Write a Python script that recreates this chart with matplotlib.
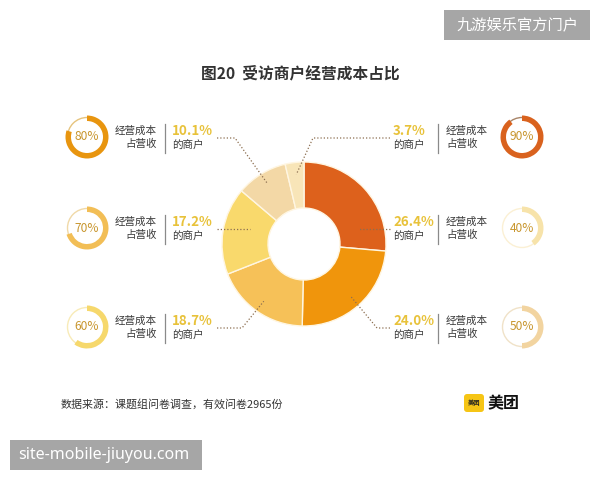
import numpy as np
import matplotlib
matplotlib.use('Agg')
import matplotlib.pyplot as plt
from matplotlib.patches import Wedge, Circle, FancyBboxPatch, Rectangle

plt.rcParams['font.family'] = ['Noto Sans CJK SC', 'DejaVu Sans']

# data (clockwise from 12 o'clock)
shares = [26.4, 24.0, 18.7, 17.2, 10.1, 3.7]
share_labels = ['26.4%', '24.0%', '18.7%', '17.2%', '10.1%', '3.7%']
slice_colors = ['#DD611C', '#F0950C', '#F6C158', '#F9D96C', '#F3D8A6', '#F8E5B8']
cost_ratio = [40, 50, 60, 70, 80, 90]
ring_colors = ['#F7E3AA', '#F2D4A0', '#F6D86C', '#F2BE56', '#E8950F', '#D9621E']
ring_light = ['#FBF0D4', '#F0E2C8', '#F8EBB8', '#F0D9A8', '#E6C47E', '#A88468']

title = '图20  受访商户经营成本占比'
source = '数据来源：课题组问卷调查，有效问卷2965份'

# layout in pixels (y measured from top): side, row y, elbow x (None = straight line)
layout = [('R', 229, None), ('R', 328, 377), ('L', 328, 242),
          ('L', 229, None), ('L', 138, 235), ('R', 138, 313)]

W, H = 600, 480
cx, cy, r_out, r_in = 304, 244, 82, 36


def Y(y):
    return H - y


fig = plt.figure(figsize=(6, 4.8), dpi=100)
ax = fig.add_axes([0, 0, 1, 1])

ax.pie(shares, colors=slice_colors, startangle=90, counterclock=False,
       radius=r_out, center=(cx, Y(cy)),
       wedgeprops=dict(width=r_out - r_in, edgecolor='#FFF6E2', linewidth=1.0))

ax.set_xlim(0, W)
ax.set_ylim(0, H)
ax.set_aspect('equal')
ax.axis('off')

ax.text(300, Y(73), title, ha='center', va='center', fontsize=11.3,
        fontweight='bold', color='#333333')

cum = np.cumsum([0] + shares[:-1])
dot = dict(color='#8C6E50', lw=0.9, linestyle=(0, (1, 1.6)))
for i, (side, ry, elbow) in enumerate(layout):
    mid = cum[i] + shares[i] / 2
    ang = np.deg2rad(90 - mid / 100 * 360)
    if side == 'L':
        tx_pct, sep_x, tx_cost, ring_x, line_x = 172, 165, 157, 87, 217
    else:
        tx_pct, sep_x, tx_cost, ring_x, line_x = 393, 438, 446, 522, 390

    # connector
    if elbow is None:
        end_x = cx - 54 if side == 'L' else cx + 54
        ax.plot([line_x, end_x], [Y(ry), Y(ry)], **dot)
    else:
        ax_, ay_ = cx + 70 * np.cos(ang), cy - 70 * np.sin(ang)
        ax.plot([line_x, elbow, ax_], [Y(ry), Y(ry), Y(ay_)], **dot)

    # share text
    ax.text(tx_pct, Y(ry - 7), share_labels[i], ha='left', va='center',
            fontsize=9.6, fontweight='bold', color='#E8C23A')
    ax.text(tx_pct, Y(ry + 8), '的商户', ha='left', va='center',
            fontsize=7.6, color='#3A3A3A')
    ax.plot([sep_x, sep_x], [Y(ry - 14), Y(ry + 15)], color='#8A8A8A', lw=0.9)
    ha = 'right' if side == 'L' else 'left'
    ax.text(tx_cost, Y(ry - 7), '经营成本', ha=ha, va='center',
            fontsize=7.6, color='#3A3A3A')
    ax.text(tx_cost, Y(ry + 6), '占营收', ha=ha, va='center',
            fontsize=7.6, color='#3A3A3A')

    # small ring
    p = cost_ratio[i] / 100
    ry_ring = ry - 1
    ax.add_patch(Circle((ring_x, Y(ry_ring)), 19.5, fill=False,
                        edgecolor=ring_light[i], lw=1.0))
    ax.add_patch(Wedge((ring_x, Y(ry_ring)), 21.5, 90 - 360 * p, 90, width=5.5,
                       facecolor=ring_colors[i], edgecolor='none'))
    ax.text(ring_x, Y(ry_ring), '{}%'.format(cost_ratio[i]), ha='center',
            va='center', fontsize=8.6, fontweight='medium', color='#C8962E')

# footer
ax.text(61, Y(404), source, ha='left', va='center', fontsize=7.9, color='#333333')
ax.add_patch(FancyBboxPatch((465, Y(411)), 18, 16, boxstyle='round,pad=1,rounding_size=3',
                            facecolor='#F6C515', edgecolor='none'))
ax.text(474, Y(403), '美团', ha='center', va='center', fontsize=4.5,
        fontweight='bold', color='#222222')
ax.text(488, Y(403), '美团', ha='left', va='center', fontsize=11.5,
        fontweight='bold', color='#111111')

# watermarks
ax.add_patch(Rectangle((444, Y(40)), 146, 30, facecolor='#A6A6A6', edgecolor='none'))
ax.text(517, Y(25), '九游娱乐官方门户', ha='center', va='center', fontsize=11,
        color='white')
ax.add_patch(Rectangle((10, Y(470)), 192, 30, facecolor='#A6A6A6', edgecolor='none'))
ax.text(18, Y(455), 'site-mobile-jiuyou.com', ha='left', va='center',
        fontsize=11.5, color='white', family=['Noto Sans', 'DejaVu Sans'])

fig.savefig('out.png', dpi=100, facecolor='white')
